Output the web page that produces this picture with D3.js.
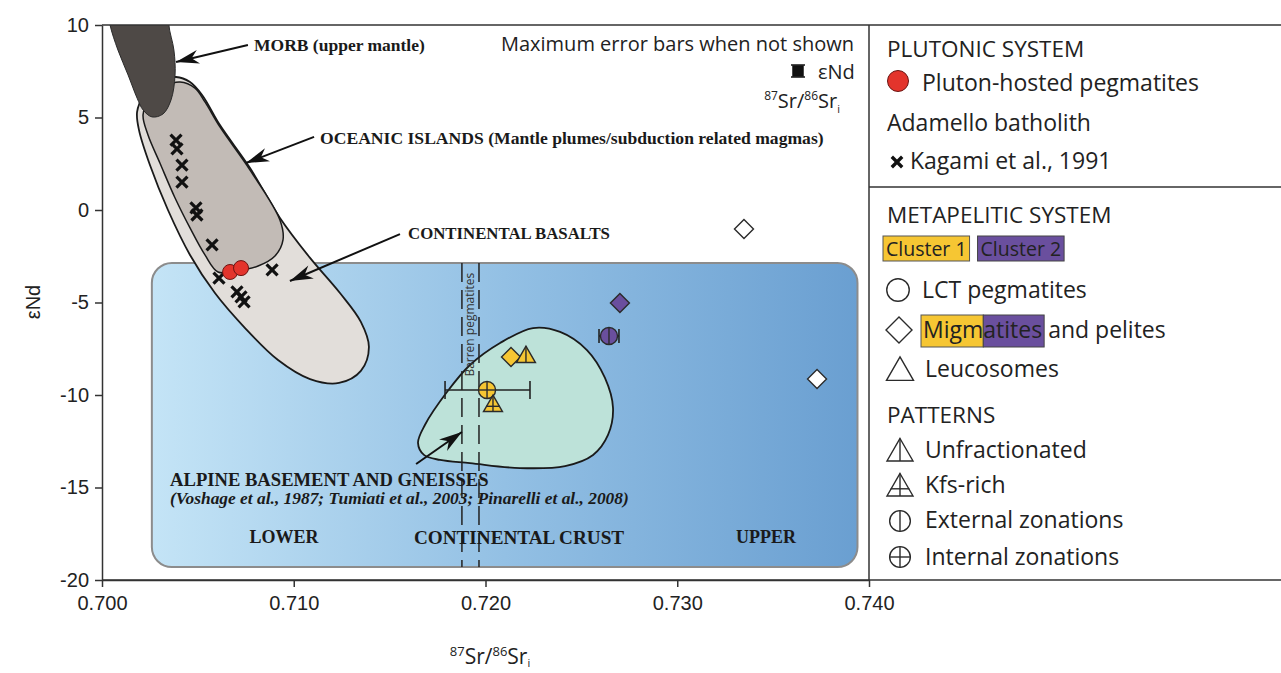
<!DOCTYPE html>
<html><head><meta charset="utf-8">
<script src="https://cdn.jsdelivr.net/npm/d3@7"></script>
<style>body{margin:0;background:#fff;} svg{display:block;}</style>
</head><body>
<svg id="chart" width="1281" height="673"></svg>
<script>
// ---------------- DATA ----------------
const xTicks = [0.700, 0.710, 0.720, 0.730, 0.740];
const yTicks = [-20, -15, -10, -5, 0, 5, 10];

// Kagami et al., 1991 (Adamello batholith)
const kagamiSr = [0.70386, 0.70391, 0.70417, 0.70417, 0.70490, 0.70495, 0.70574, 0.70610, 0.70704, 0.70725, 0.70741, 0.70887];
const kagamiNd = [3.78, 3.30, 2.43, 1.51, 0.11, -0.27, -1.89, -3.68, -4.43, -4.70, -4.97, -3.24];

// Pluton-hosted pegmatites
const plutonSr = [0.70668, 0.70725];
const plutonNd = [-3.35, -3.14];

// Metapelitic system
const metaSr      = [0.72133, 0.72211, 0.72008, 0.72039, 0.72701, 0.72644, 0.73348, 0.73729];
const metaNd      = [-7.95, -7.89, -9.73, -10.54, -5.03, -6.81, -1.03, -9.14];
const metaType    = ["migmatite", "leucosome", "lct", "leucosome", "migmatite", "lct", "migmatite", "migmatite"];
const metaCluster = [1, 1, 1, 1, 2, 2, 0, 0];
const metaPattern = ["none", "unfractionated", "internal", "kfs", "none", "external", "none", "none"];
const metaSrLo    = [null, null, 0.71789, null, null, 0.72592, null, null];
const metaSrHi    = [null, null, 0.72232, null, null, 0.72696, null, null];

// Reference fields (Sr, Nd outline vertices)
const morbField = [[0.70031,10.9],[0.70042,10],[0.70083,8.65],[0.70136,7.30],[0.70183,6.05],[0.70214,5.41],[0.70261,5.03],[0.70318,5.19],[0.70360,5.95],[0.70381,7.30],[0.70375,8.65],[0.70349,10],[0.70355,10.9]];
const oceanicField = [[0.70214,5.14],[0.70250,6.05],[0.70329,6.70],[0.70407,6.92],[0.70485,6.59],[0.70537,5.84],[0.70615,4.49],[0.70772,2.16],[0.70928,-0.54],[0.70944,-1.62],[0.70902,-2.49],[0.70814,-3.03],[0.70694,-3.30],[0.70605,-3.35],[0.70537,-2.43],[0.70459,-0.97],[0.70381,0.65],[0.70302,2.54],[0.70240,4.05]];
const basaltField = [[0.70183,5.30],[0.70219,6.22],[0.70292,6.97],[0.70386,7.19],[0.70459,6.92],[0.70522,6.22],[0.70615,4.59],[0.70772,2.27],[0.70928,-0.43],[0.71085,-2.59],[0.71241,-4.49],[0.71350,-6.05],[0.71392,-7.41],[0.71350,-8.70],[0.71236,-9.35],[0.71085,-9.14],[0.70918,-8.11],[0.70746,-6.38],[0.70589,-4.49],[0.70459,-2.43],[0.70344,0.00],[0.70250,2.43],[0.70193,4.32]];
const alpineField = [[0.71684,-11.62],[0.71799,-9.84],[0.71919,-8.38],[0.72076,-7.19],[0.72248,-6.38],[0.72389,-6.59],[0.72529,-7.57],[0.72623,-9.08],[0.72665,-10.70],[0.72639,-12.16],[0.72561,-13.24],[0.72415,-13.84],[0.72180,-13.95],[0.71919,-13.68],[0.71763,-13.51],[0.71679,-13.24],[0.71648,-12.59]];
const crustSr = [0.7026, 0.7394];
const crustNd = [-19.3, -2.86];
const barrenSr = [0.71877, 0.71966];

// Annotations
const annoText = ["MORB (upper mantle)", "OCEANIC ISLANDS (Mantle plumes/subduction related magmas)", "CONTINENTAL BASALTS"];
const annoSr = [0.70793, 0.71137, 0.71596];
const annoNd = [8.92, 3.89, -1.24];
const arrowFrom = [[0.70761, 8.92], [0.71106, 3.95], [0.71554, -1.30], [0.71638, -13.73]];
const arrowTo   = [[0.70386, 8.00], [0.70751, 2.54], [0.70980, -3.84], [0.71877, -12.0]];
const crustLabels = ["LOWER", "CONTINENTAL CRUST", "UPPER"];
const crustLabelSr = [0.70949, 0.72175, 0.73463];

// ---------------- CHART ----------------
const svg = d3.select("#chart");
const L = 102, R = 869, T = 25, B = 580, W = 1281;
const x = d3.scaleLinear().domain([0.700, 0.740]).range([L, R]);
const y = d3.scaleLinear().domain([-20, 10]).range([B, T]);

const yellow = "#f6c633", purple = "#6a4f9e", red = "#e3342c";
const sans = "'Open Sans', sans-serif";
const serif = "'Liberation Serif', serif";
const axisFont = "'Liberation Sans', Arial, sans-serif";

const defs = svg.append("defs");
const grad = defs.append("linearGradient").attr("id", "crustGrad").attr("x1", 0).attr("x2", 1).attr("y1", 0).attr("y2", 0);
grad.append("stop").attr("offset", 0).attr("stop-color", "#c4e4f6");
grad.append("stop").attr("offset", 0.5).attr("stop-color", "#93c0e4");
grad.append("stop").attr("offset", 1).attr("stop-color", "#6a9fd1");
defs.append("clipPath").attr("id", "plotClip").append("rect").attr("x", L).attr("y", T).attr("width", R - L).attr("height", B - T);
defs.append("marker").attr("id", "arrow").attr("markerUnits", "userSpaceOnUse")
  .attr("viewBox", "-24 -9 26 18").attr("markerWidth", 26).attr("markerHeight", 18)
  .attr("refX", 0).attr("refY", 0).attr("orient", "auto")
  .append("path").attr("d", "M0,0 L-23,-7 L-16,0 L-23,7 Z").attr("fill", "#111");

const plot = svg.append("g").attr("clip-path", "url(#plotClip)");

// crust box
plot.append("rect")
  .attr("x", x(crustSr[0])).attr("y", y(crustNd[1]))
  .attr("width", x(crustSr[1]) - x(crustSr[0])).attr("height", y(crustNd[0]) - y(crustNd[1]))
  .attr("rx", 20).attr("ry", 20)
  .attr("fill", "url(#crustGrad)").attr("stroke", "#8c8c8c").attr("stroke-width", 2);

const closed = d3.line().x(d => x(d[0])).y(d => y(d[1])).curve(d3.curveCatmullRomClosed.alpha(0.5));
plot.append("path").attr("d", closed(basaltField)).attr("fill", "#e2deda").attr("stroke", "#1a1a1a").attr("stroke-width", 1.8);
plot.append("path").attr("d", closed(oceanicField)).attr("fill", "#c2bbb6").attr("stroke", "#1a1a1a").attr("stroke-width", 1.5);
plot.append("path").attr("d", closed(morbField)).attr("fill", "#4e4946").attr("stroke", "#2a2a2a").attr("stroke-width", 1);
plot.append("path").attr("d", closed(alpineField)).attr("fill", "#bde2d9").attr("stroke", "#1a1a1a").attr("stroke-width", 1.8);

// barren pegmatite dashed lines
barrenSr.forEach(s => {
  plot.append("line").attr("x1", x(s)).attr("x2", x(s)).attr("y1", y(crustNd[1])).attr("y2", y(crustNd[0]))
    .attr("stroke", "#222").attr("stroke-width", 1.5).attr("stroke-dasharray", "19,8");
});
plot.append("text").attr("transform", `translate(${x((barrenSr[0] + barrenSr[1]) / 2) + 4},${y(-6.2)}) rotate(-90)`)
  .attr("text-anchor", "middle").attr("font-family", sans).attr("font-size", 12).attr("fill", "#333")
  .text("Barren pegmatites");

// annotations
const annoSize = [17.5, 17.6, 16.8];
annoText.forEach((t, i) => {
  plot.append("text").attr("x", x(annoSr[i])).attr("y", y(annoNd[i])).attr("dy", "0.35em")
    .attr("font-family", serif).attr("font-weight", "bold").attr("font-size", annoSize[i]).attr("fill", "#1a1a1a").text(t);
});
plot.append("text").attr("x", x(0.70355)).attr("y", y(-14.54)).attr("dy", "0.35em")
  .attr("font-family", serif).attr("font-weight", "bold").attr("font-size", 18.6).attr("fill", "#1a1a1a")
  .text("ALPINE BASEMENT AND GNEISSES");
plot.append("text").attr("x", x(0.70355)).attr("y", y(-15.56)).attr("dy", "0.35em")
  .attr("font-family", serif).attr("font-weight", "bold").attr("font-style", "italic").attr("font-size", 17.4).attr("fill", "#1a1a1a")
  .text("(Voshage et al., 1987; Tumiati et al., 2003; Pinarelli et al., 2008)");
const crustSize = [18, 19.2, 18];
crustLabels.forEach((t, i) => {
  plot.append("text").attr("x", x(crustLabelSr[i])).attr("y", y(-17.68)).attr("dy", "0.35em").attr("text-anchor", "middle")
    .attr("font-family", serif).attr("font-weight", "bold").attr("font-size", crustSize[i]).attr("fill", "#1a1a1a").text(t);
});
arrowFrom.forEach((f, i) => {
  plot.append("line").attr("x1", x(f[0])).attr("y1", y(f[1])).attr("x2", x(arrowTo[i][0])).attr("y2", y(arrowTo[i][1]))
    .attr("stroke", "#111").attr("stroke-width", 2).attr("marker-end", "url(#arrow)");
});

// Kagami crosses
const crossPath = s => `M${-s},${-s}L${s},${s}M${-s},${s}L${s},${-s}`;
kagamiSr.forEach((s, i) => {
  plot.append("path").attr("transform", `translate(${x(s)},${y(kagamiNd[i])})`).attr("d", crossPath(5.5))
    .attr("stroke", "#111").attr("stroke-width", 3.2).attr("fill", "none");
});
// pluton-hosted pegmatites
plutonSr.forEach((s, i) => {
  plot.append("circle").attr("cx", x(s)).attr("cy", y(plutonNd[i])).attr("r", 7.5)
    .attr("fill", red).attr("stroke", "#6b1512").attr("stroke-width", 1);
});

// symbol helpers
function drawSymbol(g, type, size, fill, pattern) {
  const st = "#2b2b2b", sw = 1.4;
  if (type === "migmatite") {
    const r = size;
    g.append("path").attr("d", `M0,${-r}L${r},0L0,${r}L${-r},0Z`).attr("fill", fill).attr("stroke", st).attr("stroke-width", sw);
  } else if (type === "leucosome") {
    const s = size * 2, h = s * 0.866, top = -h * 0.6, bot = h * 0.4;
    g.append("path").attr("d", `M0,${top}L${s / 2},${bot}L${-s / 2},${bot}Z`).attr("fill", fill).attr("stroke", st).attr("stroke-width", sw);
    if (pattern === "unfractionated" || pattern === "kfs")
      g.append("line").attr("x1", 0).attr("x2", 0).attr("y1", top).attr("y2", bot).attr("stroke", st).attr("stroke-width", sw);
    if (pattern === "kfs")
      g.append("line").attr("x1", -s * 0.36).attr("x2", s * 0.36).attr("y1", h * 0.08).attr("y2", h * 0.08).attr("stroke", st).attr("stroke-width", sw);
  } else {
    const r = size * 0.9;
    g.append("circle").attr("r", r).attr("fill", fill).attr("stroke", st).attr("stroke-width", sw);
    if (pattern === "external" || pattern === "internal")
      g.append("line").attr("x1", 0).attr("x2", 0).attr("y1", -r).attr("y2", r).attr("stroke", st).attr("stroke-width", sw);
    if (pattern === "internal")
      g.append("line").attr("x1", -r).attr("x2", r).attr("y1", 0).attr("y2", 0).attr("stroke", st).attr("stroke-width", sw);
  }
}
const clusterFill = c => c === 1 ? yellow : (c === 2 ? purple : "#fff");

// error bars
metaSr.forEach((s, i) => {
  if (metaSrLo[i] === null) return;
  const yy = y(metaNd[i]), cap = metaCluster[i] === 1 ? 9 : 7;
  const g = plot.append("g").attr("stroke", "#222").attr("stroke-width", 1.6);
  g.append("line").attr("x1", x(metaSrLo[i])).attr("x2", x(metaSrHi[i])).attr("y1", yy).attr("y2", yy);
  g.append("line").attr("x1", x(metaSrLo[i])).attr("x2", x(metaSrLo[i])).attr("y1", yy - cap).attr("y2", yy + cap);
  g.append("line").attr("x1", x(metaSrHi[i])).attr("x2", x(metaSrHi[i])).attr("y1", yy - cap).attr("y2", yy + cap);
});
metaSr.forEach((s, i) => {
  const g = plot.append("g").attr("transform", `translate(${x(s)},${y(metaNd[i])})`);
  drawSymbol(g, metaType[i], 9.5, clusterFill(metaCluster[i]), metaPattern[i]);
});

// ---------------- AXES & FRAME ----------------
const xAxis = svg.append("g").attr("transform", `translate(0,${B})`)
  .call(d3.axisBottom(x).tickValues(xTicks).tickFormat(d3.format(".3f")).tickSize(7).tickSizeOuter(0));
const yAxis = svg.append("g").attr("transform", `translate(${L},0)`)
  .call(d3.axisLeft(y).tickValues(yTicks).tickFormat(d => String(d)).tickSize(7).tickSizeOuter(0));
[xAxis, yAxis].forEach(a => {
  a.selectAll("text").attr("font-family", axisFont).attr("font-size", 20).attr("fill", "#222");
  a.selectAll("line,path").attr("stroke", "#333").attr("stroke-width", 1.5);
});
xAxis.selectAll("text").attr("dy", "1.0em");
yAxis.selectAll("text").attr("dx", "-0.15em");

const frame = svg.append("g").attr("stroke", "#333").attr("stroke-width", 1.5);
frame.append("line").attr("x1", L).attr("x2", W).attr("y1", T).attr("y2", T);
frame.append("line").attr("x1", L).attr("x2", W).attr("y1", B).attr("y2", B);
frame.append("line").attr("x1", R).attr("x2", R).attr("y1", T).attr("y2", B);
frame.append("line").attr("x1", R).attr("x2", W).attr("y1", 187).attr("y2", 187);

// axis titles
svg.append("text").attr("transform", "translate(40,302) rotate(-90)").attr("text-anchor", "middle")
  .attr("font-family", axisFont).attr("font-size", 20).attr("fill", "#222").text("εNd");
const xt = svg.append("text").attr("x", 490).attr("y", 664).attr("text-anchor", "middle")
  .attr("font-family", sans).attr("font-size", 21).attr("fill", "#222");
xt.append("tspan").attr("font-size", 13).attr("dy", -8).text("87");
xt.append("tspan").attr("dy", 8).text("Sr/");
xt.append("tspan").attr("font-size", 13).attr("dy", -8).text("86");
xt.append("tspan").attr("dy", 8).text("Sr");
xt.append("tspan").attr("font-size", 11).attr("dy", 3).text("i");

// max error bar note
svg.append("text").attr("x", 854).attr("y", 51).attr("text-anchor", "end")
  .attr("font-family", sans).attr("font-size", 20).attr("fill", "#222").text("Maximum error bars when not shown");
const eb = svg.append("g").attr("transform", "translate(798,71)").attr("stroke", "#111").attr("stroke-width", 1.5);
eb.append("rect").attr("x", -5).attr("y", -5).attr("width", 10).attr("height", 10).attr("fill", "#111");
eb.append("line").attr("x1", -7).attr("x2", 7).attr("y1", -6).attr("y2", -6);
eb.append("line").attr("x1", -7).attr("x2", 7).attr("y1", 6).attr("y2", 6);
svg.append("text").attr("x", 818).attr("y", 79).attr("font-family", sans).attr("font-size", 20).attr("fill", "#222").text("εNd");
const st2 = svg.append("text").attr("x", 840).attr("y", 108).attr("text-anchor", "end").attr("font-family", sans).attr("font-size", 20).attr("fill", "#222");
st2.append("tspan").attr("font-size", 12).attr("dy", -8).text("87");
st2.append("tspan").attr("dy", 8).text("Sr/");
st2.append("tspan").attr("font-size", 12).attr("dy", -8).text("86");
st2.append("tspan").attr("dy", 8).text("Sr");
st2.append("tspan").attr("font-size", 11).attr("dy", 5).text("i");

// ---------------- LEGEND ----------------
const lg = svg.append("g").attr("font-family", sans).attr("fill", "#222");
const lt = (xx, yy, t, fs) => lg.append("text").attr("x", xx).attr("y", yy).attr("font-size", fs || 23).text(t);
lt(887, 57, "PLUTONIC SYSTEM", 22.5);
lg.append("circle").attr("cx", 898).attr("cy", 81).attr("r", 10.5).attr("fill", red).attr("stroke", "#6b1512").attr("stroke-width", 1);
lt(922, 91, "Pluton-hosted pegmatites");
lt(887, 131, "Adamello batholith");
lg.append("path").attr("transform", "translate(897,162)").attr("d", crossPath(5.2)).attr("stroke", "#111").attr("stroke-width", 3.4).attr("fill", "none");
lt(910, 169, "Kagami et al., 1991");

lt(887, 223, "METAPELITIC SYSTEM", 22.5);
function boxedText(xx, yy, t, fs) {
  const tx = lg.append("text").attr("x", xx).attr("y", yy).attr("font-size", fs).text(t);
  const w = tx.node().getComputedTextLength();
  return { tx, w };
}
{
  const a = boxedText(886, 256, "Cluster 1", 19.5);
  lg.insert("rect", "text").attr("x", 883).attr("y", 236).attr("width", a.w + 6).attr("height", 25).attr("fill", yellow).attr("stroke", "#555").attr("stroke-width", 1);
  const bx = 883 + a.w + 14;
  const b = boxedText(bx + 3, 256, "Cluster 2", 19.5);
  lg.insert("rect", "text").attr("x", bx).attr("y", 236).attr("width", b.w + 6).attr("height", 25).attr("fill", purple).attr("stroke", "#444").attr("stroke-width", 1);
}
{
  const g1 = lg.append("g").attr("transform", "translate(898,290)");
  drawSymbol(g1, "lct", 12.5, "#fff", "none");
  lt(922, 298, "LCT pegmatites");
  const g2 = lg.append("g").attr("transform", "translate(899,330)");
  drawSymbol(g2, "migmatite", 13, "#fff", "none");
  const m1 = boxedText(923, 338, "Migm", 23);
  const m2 = boxedText(923 + m1.w, 338, "atites", 23);
  lg.insert("rect", "text").attr("x", 921).attr("y", 315).attr("width", m1.w + 2).attr("height", 32).attr("fill", yellow).attr("stroke", "#555").attr("stroke-width", 1);
  lg.insert("rect", "text").attr("x", 923 + m1.w).attr("y", 315).attr("width", m2.w + 2).attr("height", 32).attr("fill", purple).attr("stroke", "#444").attr("stroke-width", 1);
  lt(923 + m1.w + m2.w + 6, 338, "and pelites");
  const g3 = lg.append("g").attr("transform", "translate(900,371)");
  drawSymbol(g3, "leucosome", 13.5, "#fff", "none");
  lt(925, 377, "Leucosomes");
}
lt(887, 423, "PATTERNS", 22.5);
[["leucosome", "unfractionated", 452, 458, "Unfractionated"],
 ["leucosome", "kfs", 487, 493, "Kfs-rich"],
 ["lct", "external", 521, 528, "External zonations"],
 ["lct", "internal", 557, 565, "Internal zonations"]].forEach(r => {
  const g = lg.append("g").attr("transform", `translate(900,${r[2]})`);
  drawSymbol(g, r[0], r[0] === "lct" ? 11.5 : 13, "#fff", r[1]);
  lt(925, r[3], r[4]);
});
</script>
</body></html>
